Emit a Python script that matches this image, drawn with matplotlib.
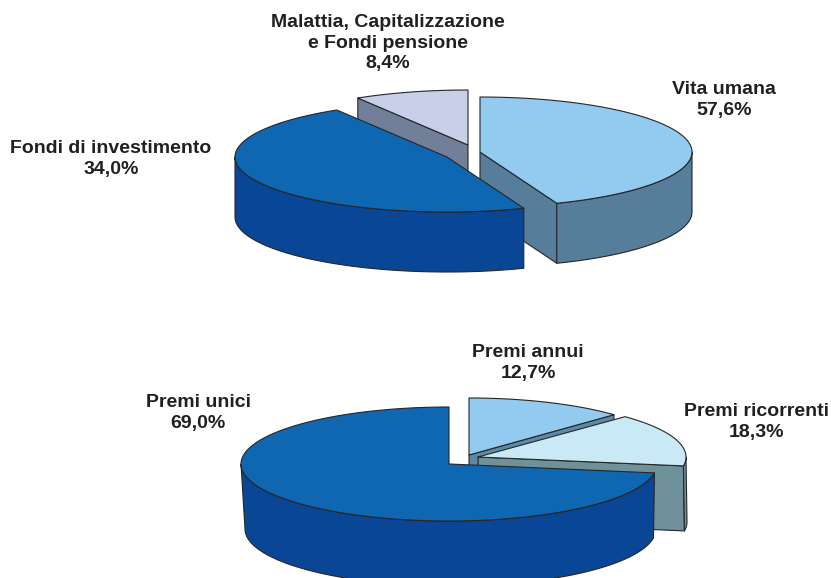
import numpy as np
import matplotlib
matplotlib.use("Agg")
import matplotlib.pyplot as plt
from matplotlib.patches import Polygon

plt.rcParams['font.family'] = ['Liberation Sans', 'DejaVu Sans']

# Printed labels
top_names = ["Vita umana", "Fondi di investimento", "Malattia, Capitalizzazione\ne Fondi pensione"]
top_printed = ["57,6%", "34,0%", "8,4%"]
bottom_names = ["Premi annui", "Premi ricorrenti", "Premi unici"]
bottom_printed = ["12,7%", "18,3%", "69,0%"]

# Slice shares as drawn in the picture (read from the arcs, clockwise from 12 o'clock).
# The printed labels do not match the drawn angles in the source chart.
top_drawn = [44.1, 47.2, 8.7]
bottom_drawn = [12.5, 15.0, 72.5]

# Styles and layout
top_faces = ["#92CBEF", "#0F67B2", "#C8CFE9"]
top_walls = ["#567D99", "#094796", "#717F98"]
bottom_faces = ["#92CBEF", "#C8E9F5", "#0F67B2"]
bottom_walls = ["#5B8AA8", "#6F9199", "#094796"]
top_centres = [(480, 152), (447, 157), (468, 145)]
top_rx = [212, 212, 212]
top_ry, top_depth = 55, 60
bottom_centres = [(469, 455), (478, 457), (449, 464)]
bottom_rx = [205, 208, 208]
bottom_ry, bottom_depth = 57, 65
top_order = [2, 0, 1]
bottom_order = [0, 1, 2]
bottom_taper = [(0, 0), (1, 0), (1.5, -2.5)]
top_taper = [(0, 0), (0, 0), (0, 0)]
top_label_pos = [(724, 100), (111, 159), (388, 43)]
bottom_label_pos = [(528, 363), (757, 422), (198, 413)]

EDGE = "#262626"
LW = 0.8


def rim(cx, cy, rx, ry, a0, a1, n=120):
    t = np.linspace(a0, a1, n)
    return np.column_stack([cx + rx * np.sin(t), cy - ry * np.cos(t)])


def add_poly(ax, pts, fc, z):
    ax.add_patch(Polygon(pts, closed=True, facecolor=fc, edgecolor=EDGE,
                         linewidth=LW, joinstyle='round', zorder=z))


def draw_pie(ax, shares, faces, walls, centres, rxs, ry, depth, order, taper):
    edges = np.concatenate([[0], np.cumsum(shares)]) / np.sum(shares) * 2 * np.pi
    z = 1
    for i in order:
        a0, a1 = edges[i], edges[i + 1]
        cx, cy = centres[i]
        rx = rxs[i]
        dx, drx = taper[i]
        bottom = (cx + dx, cy + depth)
        # cut wall facing the viewer
        for a, show in ((a1, np.sin(a1) > 1e-6), (a0, np.sin(a0) < -1e-6)):
            if show:
                p = rim(cx, cy, rx, ry, a, a, 1)[0]
                q = rim(bottom[0], bottom[1], rx + drx, ry, a, a, 1)[0]
                add_poly(ax, [(cx, cy), p, q, bottom], walls[i], z)
                z += 1
        # outer wall on the front half of the ellipse
        w0, w1 = max(a0, np.pi / 2), min(a1, 3 * np.pi / 2)
        if w1 > w0:
            upper = rim(cx, cy, rx, ry, w0, w1)
            lower = rim(bottom[0], bottom[1], rx + drx, ry, w0, w1)
            add_poly(ax, np.vstack([upper, lower[::-1]]), walls[i], z)
            z += 1
        # top face
        add_poly(ax, np.vstack([[(cx, cy)], rim(cx, cy, rx, ry, a0, a1)]), faces[i], z)
        z += 1
    return z


fig = plt.figure(figsize=(8.31, 5.78), dpi=100, facecolor='white')
ax = fig.add_axes([0, 0, 1, 1])
ax.set_xlim(0, 831)
ax.set_ylim(578, 0)
ax.axis('off')

draw_pie(ax, top_drawn, top_faces, top_walls, top_centres, top_rx, top_ry, top_depth, top_order, top_taper)
draw_pie(ax, bottom_drawn, bottom_faces, bottom_walls, bottom_centres, bottom_rx, bottom_ry, bottom_depth, bottom_order, bottom_taper)

for names, printed, positions in ((top_names, top_printed, top_label_pos),
                                  (bottom_names, bottom_printed, bottom_label_pos)):
    for name, pct, (x, y) in zip(names, printed, positions):
        ax.text(x, y, f"{name}\n{pct}", ha='center', va='center', multialignment='center',
                fontsize=14, fontweight='bold', color='#231F20', linespacing=1.26, zorder=50)

fig.savefig("out.png", dpi=100, facecolor='white')
